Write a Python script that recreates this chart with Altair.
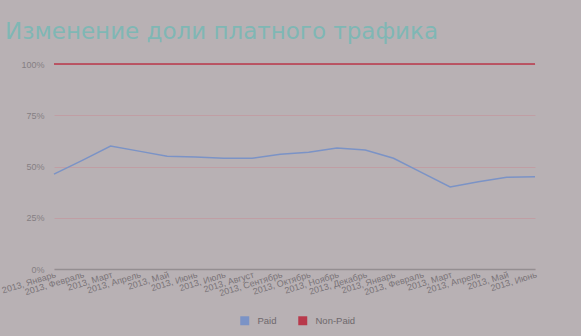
import altair as alt
import pandas as pd

months = ["2013, Январь", "2013, Февраль", "2013, Март", "2013, Апрель", "2013, Май",
          "2013, Июнь", "2013, Июль", "2013, Август", "2013, Сентябрь", "2013, Октябрь",
          "2013, Ноябрь", "2013, Декабрь", "2013, Январь", "2013, Февраль", "2013, Март",
          "2013, Апрель", "2013, Май", "2013, Июнь"]
paid = [46.3, 53, 60, 57.5, 55, 54.6, 54, 54, 56, 57, 59, 58, 54, 47, 40, 42.6, 44.7, 45]
non_paid = [100] * len(months)
series = ["Paid", "Non-Paid"]
colors = ["#7b93c6", "#b8394b"]

rows = []
for i, m in enumerate(months):
    rows.append({"i": i, "label": m, "series": "Paid", "v": paid[i]})
    rows.append({"i": i, "label": m, "series": "Non-Paid", "v": non_paid[i]})
df = pd.DataFrame(rows)

label_expr = "[" + ",".join("'" + m + "'" for m in months) + "][datum.value]"

chart = alt.Chart(df).mark_line(strokeWidth=1.5).encode(
    x=alt.X("i:Q", scale=alt.Scale(domain=[0, len(months) - 1], nice=False, zero=False),
            axis=alt.Axis(values=list(range(len(months))), labelExpr=label_expr, title=None,
                          labelAngle=343, labelAlign="right", labelBaseline="top",
                          labelFontSize=9, labelColor="#7a7478", labelFont="Liberation Sans",
                          ticks=False, grid=False, domainColor="#948e91", domainWidth=1.5,
                          labelPadding=1, labelOverlap=False, labelBound=False, labelFlush=False)),
    y=alt.Y("v:Q", scale=alt.Scale(domain=[0, 100], nice=False),
            axis=alt.Axis(values=[0, 25, 50, 75, 100], labelExpr="datum.value + '%'", title=None,
                          labelFontSize=9, labelColor="#857f83", labelFont="Liberation Sans",
                          ticks=False, domain=False, gridColor="#c09ea4", gridWidth=1,
                          labelPadding=10)),
    color=alt.Color("series:N", scale=alt.Scale(domain=series, range=colors),
                    legend=alt.Legend(title=None, orient="none", legendX=186, legendY=252,
                                      direction="horizontal", symbolType="square",
                                      symbolSize=20, symbolStrokeWidth=4.5, labelFontSize=9.5,
                                      labelColor="#6e686c", labelFont="Liberation Sans",
                                      columnPadding=14, labelOffset=8, symbolOpacity=1)),
    order=alt.Order("series:N"),
).properties(
    width=481,
    height=205,
    title=alt.TitleParams("Изменение доли платного трафика", anchor="start", frame="group",
                          dx=-49, dy=-12, fontSize=23, color="#7fb7b4", font="DejaVu Sans",
                          fontWeight="normal"),
    background="#b8b1b4",
    padding={"left": 54, "top": 64, "right": 46, "bottom": 67},
    autosize=alt.AutoSizeParams(type="none"),
).configure_view(stroke=None)

chart.save("out.html", embed_options={"renderer": "svg", "actions": False})
